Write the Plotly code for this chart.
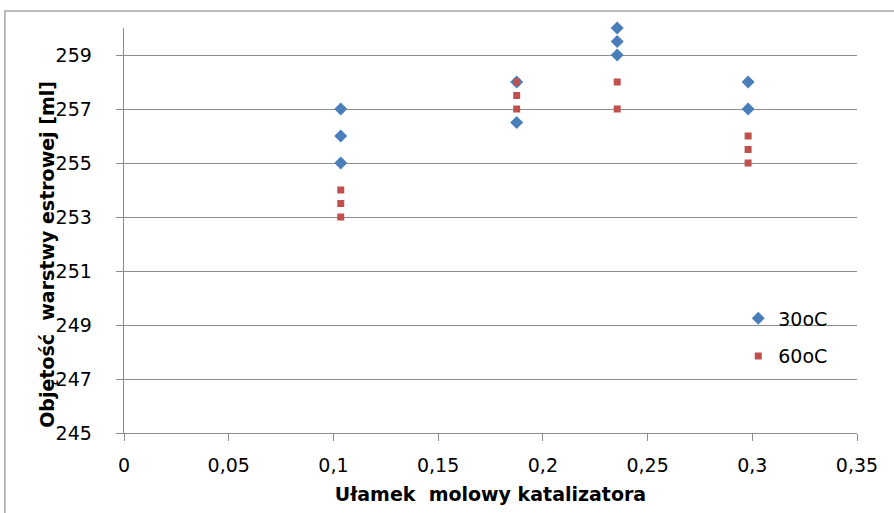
import plotly.graph_objects as go

# Measurements: molar fraction of catalyst vs. ester layer volume
x_30 = [0.1035, 0.1035, 0.1035, 0.1875, 0.1875, 0.2355, 0.2355, 0.2355, 0.298, 0.298]
y_30 = [257, 256, 255, 258, 256.5, 260, 259.5, 259, 258, 257]

x_60 = [0.1035, 0.1035, 0.1035, 0.1875, 0.1875, 0.1875, 0.2355, 0.2355, 0.298, 0.298, 0.298]
y_60 = [254, 253.5, 253, 258, 257.5, 257, 258, 257, 256, 255.5, 255]

x_ticks = [0, 0.05, 0.1, 0.15, 0.2, 0.25, 0.3, 0.35]
x_tick_text = ["0", "0,05", "0,1", "0,15", "0,2", "0,25", "0,3", "0,35"]
y_ticks = [245, 247, 249, 251, 253, 255, 257, 259]

FONT = "DejaVu Sans, sans-serif"
GRID = "#8c8c8c"

# y labels carry a transparent tail so they sit further from the axis
pad = "<span style='fill:rgba(0,0,0,0);font-size:16px'>00</span>"
y_tick_text = [f"{v}{pad}" for v in y_ticks]

fig = go.Figure()
fig.add_trace(go.Scatter(
    x=x_30, y=y_30, mode="markers", name="30oC", legendgroup="a",
    marker=dict(symbol="diamond", size=10, color="#4a7ebb"),
    cliponaxis=False,
))
fig.add_trace(go.Scatter(
    x=x_60, y=y_60, mode="markers", name="60oC", legendgroup="b",
    marker=dict(symbol="square", size=7, color="#c0504d"),
    cliponaxis=False,
))

fig.update_layout(
    width=894, height=513,
    margin=dict(l=124, r=37, t=28, b=78),
    plot_bgcolor="white", paper_bgcolor="white",
    font=dict(family=FONT, size=19, color="black"),
    showlegend=True,
    legend=dict(x=0.838, y=0.33, xanchor="left", yanchor="top",
                bgcolor="rgba(0,0,0,0)", font=dict(size=19),
                tracegroupgap=10, itemwidth=30),
    xaxis=dict(
        range=[0, 0.35], tickvals=x_ticks, ticktext=x_tick_text,
        showgrid=False, zeroline=False,
        showline=True, linecolor=GRID, linewidth=1,
        ticks="outside", ticklen=7, tickcolor=GRID,
        tickfont=dict(size=19), ticklabelstandoff=8,
        title=dict(text="<b>Ułamek  molowy katalizatora</b>", font=dict(size=19), standoff=12),
    ),
    yaxis=dict(
        range=[245, 260], tickvals=y_ticks, ticktext=y_tick_text,
        showgrid=True, gridcolor=GRID, gridwidth=1, zeroline=False,
        showline=True, linecolor=GRID, linewidth=1,
        ticks="outside", ticklen=7, tickcolor=GRID,
        tickfont=dict(size=19),
    ),
    annotations=[dict(
        text="<b>Objętość  warstwy estrowej [ml]</b>",
        xref="paper", yref="paper", x=-0.105, y=0.44,
        xanchor="center", yanchor="middle", textangle=-90,
        showarrow=False, font=dict(size=19),
    )],
)

# Chart-area frame (left and top edges visible)
fig.add_shape(type="rect", xref="paper", yref="paper",
              x0=-0.1625, x1=1.2, y0=-0.3, y1=1.042,
              line=dict(color="#a6a6a6", width=1.5), layer="below")

fig.write_html("out.html")
